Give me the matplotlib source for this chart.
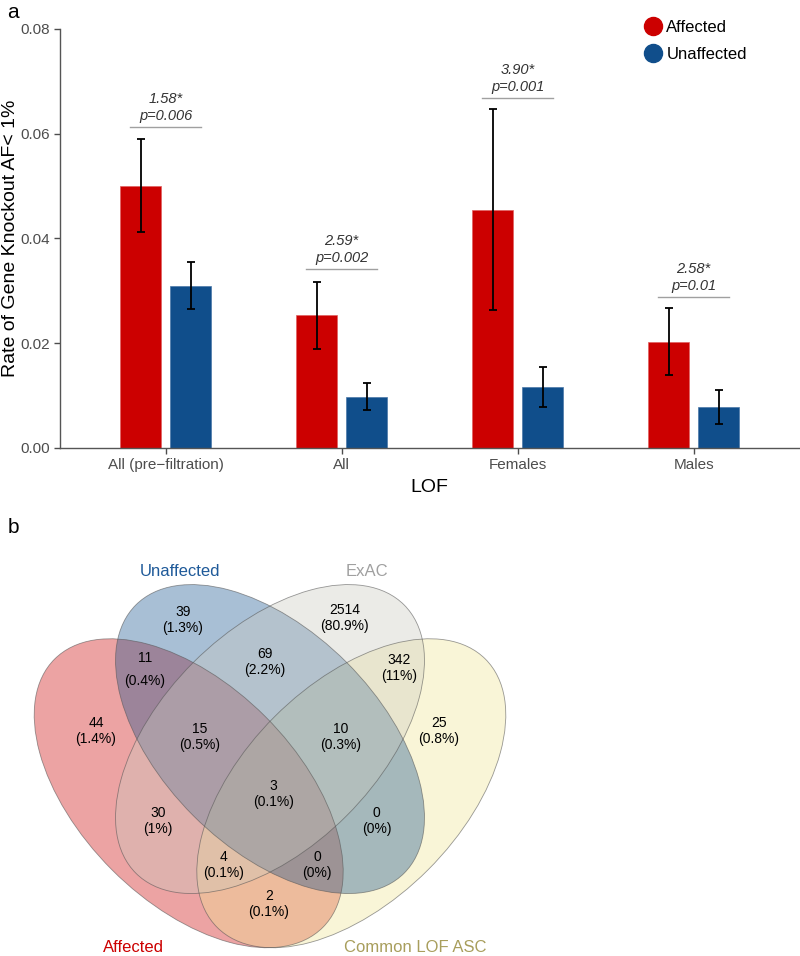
import matplotlib.pyplot as plt
from matplotlib.patches import Ellipse
from matplotlib.lines import Line2D

plt.rcParams['font.family'] = ['Liberation Sans', 'DejaVu Sans']

# panel a data
groups = ['All (pre\u2212filtration)', 'All', 'Females', 'Males']
affected = [0.0501, 0.0253, 0.0454, 0.0202]
affected_lo = [0.0412, 0.0189, 0.0263, 0.0139]
affected_hi = [0.0589, 0.0316, 0.0647, 0.0267]
unaffected = [0.0310, 0.0098, 0.0116, 0.0078]
unaffected_lo = [0.0265, 0.0073, 0.0078, 0.0046]
unaffected_hi = [0.0355, 0.0124, 0.0155, 0.0111]
odds_ratio = ['1.58*', '2.59*', '3.90*', '2.58*']
p_values = ['p=0.006', 'p=0.002', 'p=0.001', 'p=0.01']
bracket_y = [0.0613, 0.0342, 0.0669, 0.0288]

# panel b data
set_names = ['Affected', 'Unaffected', 'ExAC', 'Common LOF ASC']
region_counts = [39, 2514, 11, 69, 342, 44, 15, 10, 25, 3, 30, 0, 4, 0, 2]
region_pcts = ['1.3%', '80.9%', '0.4%', '2.2%', '11%', '1.4%', '0.5%', '0.3%',
               '0.8%', '0.1%', '1%', '0%', '0.1%', '0%', '0.1%']

RED = '#CC0000'
BLUE = '#104E8B'

fig = plt.figure(figsize=(8, 9.56), dpi=100)

# ---------------- panel a ----------------
ax = fig.add_axes([0.075, 0.5314, 0.924, 0.4383])
off, w = 0.142, 0.233
xs = list(range(1, len(groups) + 1))
xa = [x - off for x in xs]
xu = [x + off for x in xs]
ax.bar(xa, affected, width=w, color=RED, edgecolor='#E06060', linewidth=0.5)
ax.bar(xu, unaffected, width=w, color=BLUE, edgecolor='#4A78A8', linewidth=0.5)
ax.errorbar(xa, affected,
            yerr=[[a - l for a, l in zip(affected, affected_lo)],
                  [h - a for a, h in zip(affected, affected_hi)]],
            fmt='none', ecolor='black', elinewidth=1.3, capsize=3, capthick=1.3)
ax.errorbar(xu, unaffected,
            yerr=[[a - l for a, l in zip(unaffected, unaffected_lo)],
                  [h - a for a, h in zip(unaffected, unaffected_hi)]],
            fmt='none', ecolor='black', elinewidth=1.3, capsize=3, capthick=1.3)

for x, by, orr, pv in zip(xs, bracket_y, odds_ratio, p_values):
    ax.plot([x - 0.2, x + 0.2], [by, by], color='#A0A0A0', lw=1)
    ax.text(x, by + 0.0021, pv, ha='center', va='center', style='italic',
            fontsize=10.5, color='#333333')
    ax.text(x, by + 0.0053, orr, ha='center', va='center', style='italic',
            fontsize=10.5, color='#333333')

ax.set_xlim(0.4, 4.6)
ax.set_ylim(0, 0.08)
ax.set_yticks([0, 0.02, 0.04, 0.06, 0.08])
ax.set_yticklabels(['0.00', '0.02', '0.04', '0.06', '0.08'])
ax.set_xticks(xs)
ax.set_xticklabels(groups)
ax.tick_params(colors='#4D4D4D', labelsize=11, length=4, width=1, pad=3)
for s in ['top', 'right']:
    ax.spines[s].set_visible(False)
for s in ['left', 'bottom']:
    ax.spines[s].set_color('#555555')
    ax.spines[s].set_linewidth(1)
ax.set_ylabel('Rate of Gene Knockout AF< 1%', fontsize=14)
ax.yaxis.set_label_coords(-0.055, 0.5)
ax.set_xlabel('LOF', fontsize=14, labelpad=5)

handles = [Line2D([], [], marker='o', ls='none', color=c, markersize=13)
           for c in [RED, BLUE]]
fig.legend(handles, ['Affected', 'Unaffected'], loc='upper left',
           bbox_to_anchor=(0.785, 0.995), frameon=False, fontsize=12,
           handletextpad=0.2, labelspacing=0.75, handlelength=1.2)

fig.text(0.009, 0.997, 'a', fontsize=15, va='top')
fig.text(0.009, 0.458, 'b', fontsize=15, va='top')

# ---------------- panel b ----------------
vx = fig.add_axes([0, 0, 1, 456 / 956])
vx.set_xlim(1 / 542, 801 / 542)
vx.set_ylim(0.1697, 1.0111)
vx.axis('off')

# drawn in the same stacking order as the original: red, yellow, blue, grey
ellipses = [
    ((0.35, 0.47), -45, RED),
    ((0.65, 0.47), 45, '#F1E690'),
    ((0.50, 0.57), -45, BLUE),
    ((0.50, 0.57), 45, '#CACABF'),
]
for (cx, cy), ang, col in ellipses:
    vx.add_patch(Ellipse((cx, cy), 0.70, 0.40, angle=ang, facecolor=col,
                         alpha=0.36, edgecolor='none'))
for (cx, cy), ang, col in ellipses:
    vx.add_patch(Ellipse((cx, cy), 0.70, 0.40, angle=ang, facecolor='none',
                         edgecolor='#555555', lw=0.6, alpha=0.6))

label_pos = [(0.339, 0.790), (0.637, 0.793), (0.269, 0.699), (0.491, 0.712),
             (0.738, 0.701), (0.179, 0.585), (0.371, 0.574), (0.631, 0.574),
             (0.812, 0.585), (0.506, 0.469), (0.293, 0.419), (0.697, 0.419),
             (0.415, 0.338), (0.587, 0.338), (0.498, 0.266)]
line_gap = [0.015] * len(label_pos)
line_gap[2] = 0.021
for (lx, ly), n, pct, g in zip(label_pos, region_counts, region_pcts, line_gap):
    vx.text(lx, ly + g, str(n), ha='center', va='center', fontsize=10)
    vx.text(lx, ly - g, '(' + pct + ')', ha='center', va='center', fontsize=10)

set_label_pos = [(0.249, 0.185), (0.334, 0.880), (0.679, 0.880), (0.768, 0.185)]
set_colors = [RED, '#1F5A99', '#A0A0A0', '#A89E5C']
for name, (lx, ly), col in zip(set_names, set_label_pos, set_colors):
    vx.text(lx, ly, name, ha='center', va='center', fontsize=12, color=col)

fig.savefig('out.png', dpi=100)
